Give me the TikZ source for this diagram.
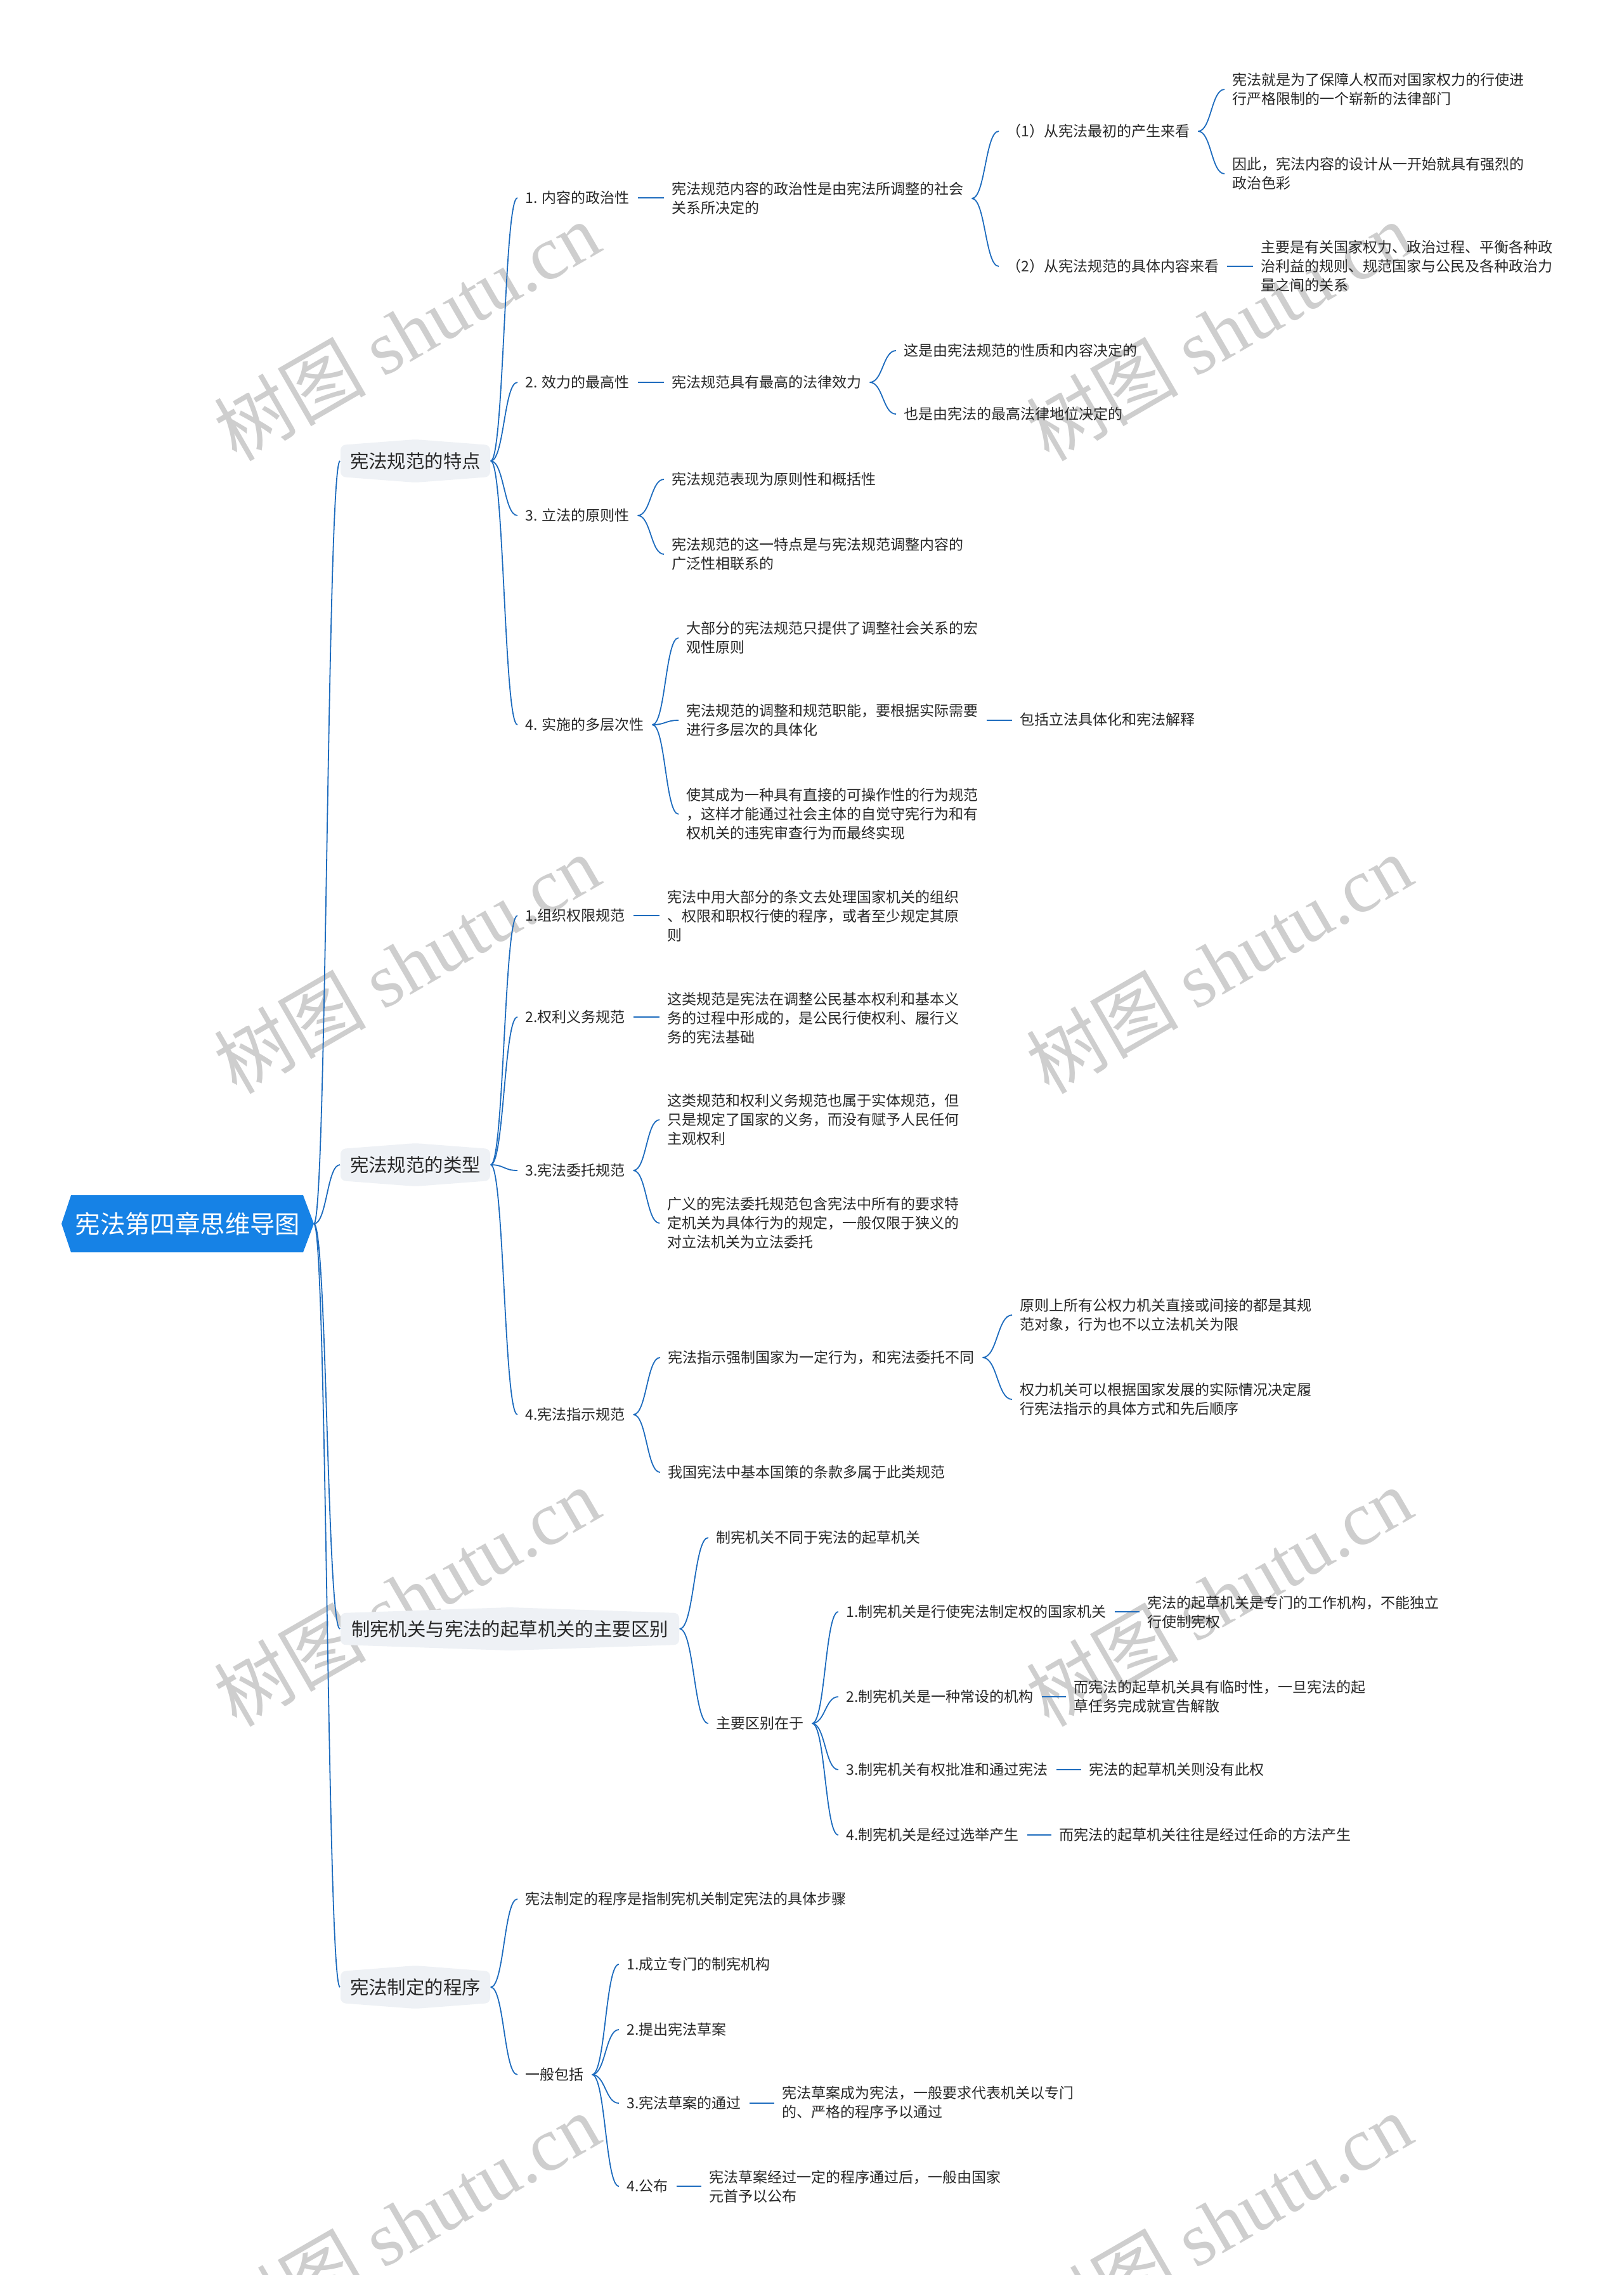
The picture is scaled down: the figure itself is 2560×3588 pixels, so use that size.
\documentclass[tikz,border=0pt]{standalone}
\usepackage{fontspec}
\setmainfont{Noto Sans CJK SC}
\newfontfamily\wmserif{Liberation Serif}
\usetikzlibrary{calc}
\definecolor{lineblue}{RGB}{30,108,190}
\definecolor{rootblue}{RGB}{22,130,230}
\definecolor{lonefill}{RGB}{238,241,245}
\definecolor{txt}{RGB}{40,40,40}
\definecolor{wmgray}{RGB}{206,206,206}
\tikzset{
  leaf/.style={anchor=west, inner xsep=3pt, inner ysep=1pt, font=\fontsize{5.75pt}{7.5pt}\selectfont, text=txt, align=left},
  lone/.style={inner sep=0pt, font=\fontsize{7.35pt}{9pt}\selectfont, text=txt},
  rootfont/.style={inner sep=0pt, font=\fontsize{9.85pt}{11pt}\selectfont, text=white},
  conn/.style={draw=lineblue, line width=0.45pt},
  sconn/.style={draw=lineblue, line width=0.7pt},
  wmark/.style={text=wmgray, rotate=30, inner sep=0pt, font=\fontsize{30pt}{32pt}\selectfont},
}
% curved brace connector from node east to node west
\newcommand\brc[2]{\draw[conn] (#1.east) .. controls ($(#1.east)!0.5!(#1.east -| #2.west)$) and ($(#2.west)!0.5!(#2.west -| #1.east)$) .. (#2.west);}
% straight short connector
\newcommand\stl[2]{\draw[sconn] (#1.east) -- (#1.east -| #2.west);}
% level-one box: name, cx, cy, half width, text
\newcommand\lbox[5]{%
  \fill[lonefill, rounded corners=2pt] (#2-#4,#3-25) -- (#2,#3-34) -- (#2+#4,#3-25) -- (#2+#4,#3+25) -- (#2,#3+34) -- (#2-#4,#3+25) -- cycle;
  \node[lone, minimum width=#4*0.5pt, minimum height=12.5pt] (#1) at (#2,#3) {#5};}
\begin{document}
\begin{tikzpicture}[x=0.25pt, y=-0.25pt]
\useasboundingbox (0,0) rectangle (2560,3588);
\fill[white] (0,0) rectangle (2560,3588);

% watermarks
\foreach \wx in {641,1922}{
  \foreach \wy in {522,1520,2518,3505}{
    \node[wmark] at (\wx,\wy) {树图 {\wmserif shutu.cn}};
  }
}

% root
\fill[rootblue] (97,1930) -- (112,1885) -- (478,1885) -- (495,1930) -- (478,1975) -- (112,1975) -- cycle;
\node[rootfont] (root) at (296,1930) {宪法第四章思维导图};
\coordinate (rt) at (495,1930);

% level one
\lbox{A}{655}{727}{118}{宪法规范的特点}
\lbox{B}{655}{1837}{118}{宪法规范的类型}
\lbox{C}{804}{2569}{267}{制宪机关与宪法的起草机关的主要区别}
\lbox{D}{655}{3134}{118}{宪法制定的程序}

\foreach \t in {A,B,C,D}{
  \draw[conn] (rt) .. controls ($(rt)!0.5!(rt -| \t.west)$) and ($(\t.west)!0.5!(\t.west -| rt)$) .. (\t.west);
}

% ---- A ----
\node[leaf] (A1) at (816,312) {1. 内容的政治性};
\node[leaf] (A1a) at (1047,313) {宪法规范内容的政治性是由宪法所调整的社会\\关系所决定的};
\node[leaf] (A1a1) at (1575,207) {（1）从宪法最初的产生来看};
\node[leaf] (A1a1a) at (1931,141) {宪法就是为了保障人权而对国家权力的行使进\\行严格限制的一个崭新的法律部门};
\node[leaf] (A1a1b) at (1931,274) {因此，宪法内容的设计从一开始就具有强烈的\\政治色彩};
\node[leaf] (A1a2) at (1575,420) {（2）从宪法规范的具体内容来看};
\node[leaf] (A1a2a) at (1976,420) {主要是有关国家权力、政治过程、平衡各种政\\治利益的规则、规范国家与公民及各种政治力\\量之间的关系};
\node[leaf] (A2) at (816,603) {2. 效力的最高性};
\node[leaf] (A2a) at (1047,603) {宪法规范具有最高的法律效力};
\node[leaf] (A2a1) at (1413,553) {这是由宪法规范的性质和内容决定的};
\node[leaf] (A2a2) at (1413,653) {也是由宪法的最高法律地位决定的};
\node[leaf] (A3) at (816,813) {3. 立法的原则性};
\node[leaf] (A3a) at (1047,756) {宪法规范表现为原则性和概括性};
\node[leaf] (A3b) at (1047,874) {宪法规范的这一特点是与宪法规范调整内容的\\广泛性相联系的};
\node[leaf] (A4) at (816,1143) {4. 实施的多层次性};
\node[leaf] (A4a) at (1070,1006) {大部分的宪法规范只提供了调整社会关系的宏\\观性原则};
\node[leaf] (A4b) at (1070,1136) {宪法规范的调整和规范职能，要根据实际需要\\进行多层次的具体化};
\node[leaf] (A4b1) at (1596,1135) {包括立法具体化和宪法解释};
\node[leaf] (A4c) at (1070,1284) {使其成为一种具有直接的可操作性的行为规范\\，这样才能通过社会主体的自觉守宪行为和有\\权机关的违宪审查行为而最终实现};

\brc{A}{A1} \brc{A}{A2} \brc{A}{A3} \brc{A}{A4}
\stl{A1}{A1a}
\brc{A1a}{A1a1} \brc{A1a}{A1a2}
\brc{A1a1}{A1a1a} \brc{A1a1}{A1a1b}
\stl{A1a2}{A1a2a}
\stl{A2}{A2a}
\brc{A2a}{A2a1} \brc{A2a}{A2a2}
\brc{A3}{A3a} \brc{A3}{A3b}
\brc{A4}{A4a} \brc{A4}{A4b} \brc{A4}{A4c}
\stl{A4b}{A4b1}

% ---- B ----
\node[leaf] (B1) at (816,1444) {1.组织权限规范};
\node[leaf] (B1a) at (1040,1445) {宪法中用大部分的条文去处理国家机关的组织\\、权限和职权行使的程序，或者至少规定其原\\则};
\node[leaf] (B2) at (816,1604) {2.权利义务规范};
\node[leaf] (B2a) at (1040,1606) {这类规范是宪法在调整公民基本权利和基本义\\务的过程中形成的，是公民行使权利、履行义\\务的宪法基础};
\node[leaf] (B3) at (816,1846) {3.宪法委托规范};
\node[leaf] (B3a) at (1040,1766) {这类规范和权利义务规范也属于实体规范，但\\只是规定了国家的义务，而没有赋予人民任何\\主观权利};
\node[leaf] (B3b) at (1040,1929) {广义的宪法委托规范包含宪法中所有的要求特\\定机关为具体行为的规定，一般仅限于狭义的\\对立法机关为立法委托};
\node[leaf] (B4) at (816,2231) {4.宪法指示规范};
\node[leaf] (B4a) at (1041,2141) {宪法指示强制国家为一定行为，和宪法委托不同};
\node[leaf] (B4a1) at (1596,2074) {原则上所有公权力机关直接或间接的都是其规\\范对象，行为也不以立法机关为限};
\node[leaf] (B4a2) at (1596,2207) {权力机关可以根据国家发展的实际情况决定履\\行宪法指示的具体方式和先后顺序};
\node[leaf] (B4b) at (1041,2322) {我国宪法中基本国策的条款多属于此类规范};

\brc{B}{B1} \brc{B}{B2} \brc{B}{B3} \brc{B}{B4}
\stl{B1}{B1a} \stl{B2}{B2a}
\brc{B3}{B3a} \brc{B3}{B3b}
\brc{B4}{B4a} \brc{B4}{B4b}
\brc{B4a}{B4a1} \brc{B4a}{B4a2}

% ---- C ----
\node[leaf] (C1) at (1117,2425) {制宪机关不同于宪法的起草机关};
\node[leaf] (C2) at (1117,2718) {主要区别在于};
\node[leaf] (C2a) at (1322,2542) {1.制宪机关是行使宪法制定权的国家机关};
\node[leaf] (C2a1) at (1797,2543) {宪法的起草机关是专门的工作机构，不能独立\\行使制宪权};
\node[leaf] (C2b) at (1322,2676) {2.制宪机关是一种常设的机构};
\node[leaf] (C2b1) at (1681,2676) {而宪法的起草机关具有临时性，一旦宪法的起\\草任务完成就宣告解散};
\node[leaf] (C2c) at (1322,2791) {3.制宪机关有权批准和通过宪法};
\node[leaf] (C2c1) at (1705,2791) {宪法的起草机关则没有此权};
\node[leaf] (C2d) at (1322,2894) {4.制宪机关是经过选举产生};
\node[leaf] (C2d1) at (1658,2894) {而宪法的起草机关往往是经过任命的方法产生};

\brc{C}{C1} \brc{C}{C2}
\brc{C2}{C2a} \brc{C2}{C2b} \brc{C2}{C2c} \brc{C2}{C2d}
\stl{C2a}{C2a1} \stl{C2b}{C2b1} \stl{C2c}{C2c1} \stl{C2d}{C2d1}

% ---- D ----
\node[leaf] (D1) at (816,2995) {宪法制定的程序是指制宪机关制定宪法的具体步骤};
\node[leaf] (D2) at (816,3272) {一般包括};
\node[leaf] (D2a) at (976,3098) {1.成立专门的制宪机构};
\node[leaf] (D2b) at (976,3201) {2.提出宪法草案};
\node[leaf] (D2c) at (976,3317) {3.宪法草案的通过};
\node[leaf] (D2c1) at (1221,3316) {宪法草案成为宪法，一般要求代表机关以专门\\的、严格的程序予以通过};
\node[leaf] (D2d) at (976,3448) {4.公布};
\node[leaf] (D2d1) at (1106,3449) {宪法草案经过一定的程序通过后，一般由国家\\元首予以公布};

\brc{D}{D1} \brc{D}{D2}
\brc{D2}{D2a} \brc{D2}{D2b} \brc{D2}{D2c} \brc{D2}{D2d}
\stl{D2c}{D2c1} \stl{D2d}{D2d1}
\end{tikzpicture}
\end{document}
